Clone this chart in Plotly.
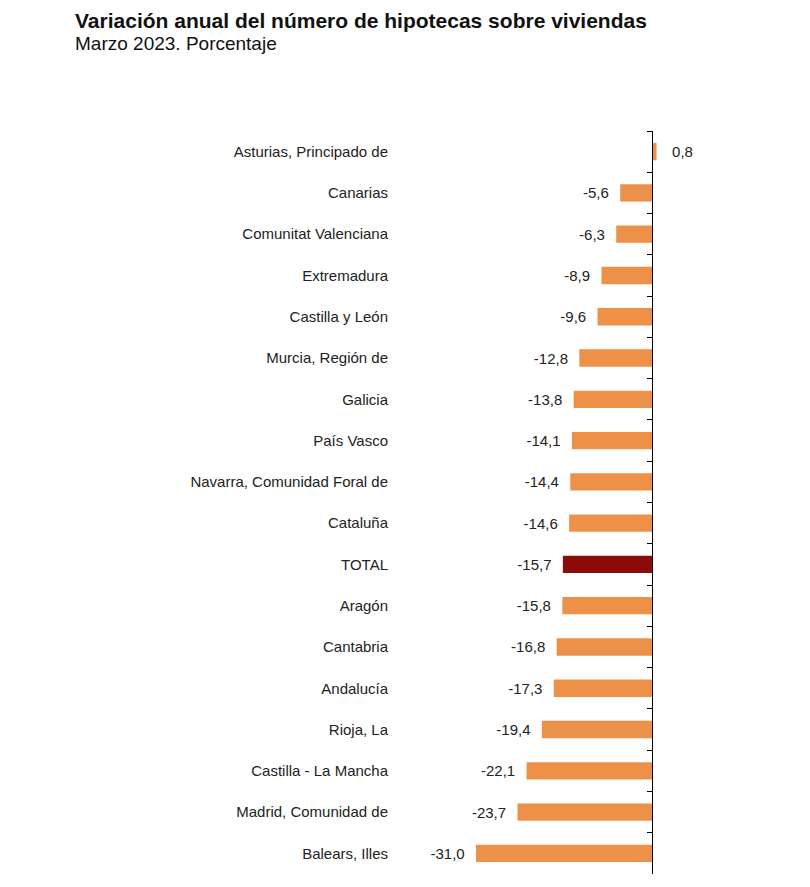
import plotly.graph_objects as go

categories = [
    "Asturias, Principado de", "Canarias", "Comunitat Valenciana", "Extremadura",
    "Castilla y León", "Murcia, Región de", "Galicia", "País Vasco",
    "Navarra, Comunidad Foral de", "Cataluña", "TOTAL", "Aragón", "Cantabria",
    "Andalucía", "Rioja, La", "Castilla - La Mancha", "Madrid, Comunidad de",
    "Balears, Illes",
]
values = [0.8, -5.6, -6.3, -8.9, -9.6, -12.8, -13.8, -14.1, -14.4, -14.6,
          -15.7, -15.8, -16.8, -17.3, -19.4, -22.1, -23.7, -31.0]

ORANGE = "#EE9148"
DARK = "#8C0B0B"
colors = [DARK if c == "TOTAL" else ORANGE for c in categories]

NB = "\u00a0"
texts = []
for v in values:
    s = f"{v:.1f}".replace(".", ",")
    texts.append(s + NB * 2 if v < 0 else NB * 3 + s)

W, H = 810, 887
L, R, T, B = 381, 98, 123, 21
PX_PER_UNIT = 176 / 31
ZERO_X = 644
xmin = -(ZERO_X - L) / PX_PER_UNIT
xmax = (W - R - ZERO_X) / PX_PER_UNIT
n = len(categories)
yrange = [n - 0.5, -0.5]
plot_w = W - L - R
plot_h = H - T - B

FONT = "Liberation Sans, Arial, sans-serif"

fig = go.Figure()
fig.add_trace(go.Bar(
    x=values, y=categories, orientation="h",
    marker=dict(color=colors, line=dict(width=0)),
    width=0.42,
    text=texts, textposition="outside", cliponaxis=False,
    textfont=dict(family=FONT, size=15, color="#222222"),
    hoverinfo="skip", showlegend=False,
))
fig.add_trace(go.Scatter(
    x=[0] * n, y=categories, yaxis="y2", mode="markers",
    marker=dict(opacity=0), hoverinfo="skip", showlegend=False,
))

fig.update_layout(
    width=W, height=H,
    margin=dict(l=L, r=R, t=T, b=B, autoexpand=False),
    paper_bgcolor="white", plot_bgcolor="white",
    font=dict(family=FONT, size=15, color="#222222"),
    title=dict(
        text="<b>Variación anual del número de hipotecas sobre viviendas</b>",
        font=dict(family=FONT, size=21, color="#111111"),
        xref="container", yref="container", x=67 / W, xanchor="left",
        y=1 - 13 / H, yanchor="middle",
    ),
    xaxis=dict(range=[xmin, xmax], visible=False, showgrid=False, zeroline=False),
    yaxis=dict(
        type="category", categoryorder="array", categoryarray=categories,
        range=yrange, showgrid=False, showline=False, ticks="",
        automargin=False, tickfont=dict(size=15, color="#222222"),
    ),
    yaxis2=dict(
        type="category", categoryorder="array", categoryarray=categories,
        range=yrange, overlaying="y", anchor="free",
        position=(0 - xmin) / (xmax - xmin), side="left",
        showline=True, linecolor="black", linewidth=1,
        ticks="outside", ticklen=5, tickcolor="black", tickwidth=1,
        tickson="boundaries", showticklabels=False, showgrid=False,
        zeroline=False, automargin=False,
    ),
    annotations=[dict(
        text="Marzo 2023. Porcentaje", xref="paper", yref="paper",
        x=(65 - L) / plot_w, xanchor="left",
        y=1 + (T - 36) / plot_h, yanchor="middle",
        showarrow=False,
        font=dict(family=FONT, size=19, color="#111111"),
    )],
)

fig.write_html("out.html")
